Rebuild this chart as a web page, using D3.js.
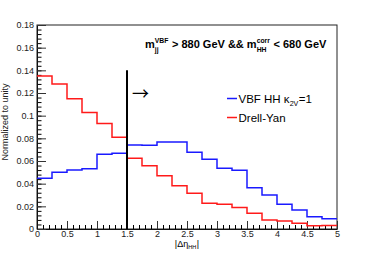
<!DOCTYPE html>
<html>
<head>
<meta charset="utf-8">
<script src="https://cdn.jsdelivr.net/npm/d3@7"></script>
<style>
  body { margin: 0; background: #fff; }
  text { font-family: "Liberation Sans", Arial, Helvetica, sans-serif; }
</style>
</head>
<body>
<div id="chart"></div>
<script>
// bin low edges (width 0.25) and the histogram contents
var binEdges = [0, 0.25, 0.5, 0.75, 1, 1.25, 1.5, 1.75, 2, 2.25, 2.5, 2.75, 3, 3.25, 3.5, 3.75, 4, 4.25, 4.5, 4.75, 5];
var vbfValues = [0.0447, 0.050, 0.052, 0.0532, 0.066, 0.0668, 0.0741, 0.074, 0.0768, 0.0768,
                 0.0677, 0.0615, 0.0535, 0.0518, 0.0365, 0.030, 0.0218, 0.0168, 0.0109, 0.0091];
var dyValues  = [0.135, 0.128, 0.115, 0.1027, 0.093, 0.081, 0.0624, 0.0558, 0.047, 0.0382,
                 0.0315, 0.0227, 0.0218, 0.019, 0.0138, 0.0079, 0.0071, 0.005, 0.0029, 0.003];
var xTicks = [0, 0.5, 1, 1.5, 2, 2.5, 3, 3.5, 4, 4.5, 5];
var yTicks = [0, 0.02, 0.04, 0.06, 0.08, 0.1, 0.12, 0.14, 0.16, 0.18];
var cutValue = 1.5;

var w = 374, h = 255;
var margins = { top: 25, right: 37, bottom: 26, left: 37 };
var width = w - margins.left - margins.right;
var height = h - margins.top - margins.bottom;

var x = d3.scaleLinear().domain([0, 5]).range([0, width]);
var y = d3.scaleLinear().domain([0, 0.18]).range([height, 0]);

var svg = d3.select("#chart").append("svg")
    .attr("width", w)
    .attr("height", h);
var g = svg.append("g")
    .attr("transform", "translate(" + margins.left + "," + margins.top + ")");

// frame
g.append("rect")
    .attr("x", 0).attr("y", 0)
    .attr("width", width).attr("height", height)
    .attr("fill", "none")
    .attr("stroke", "#222")
    .attr("stroke-width", 1);

// minor ticks
var xMinor = d3.range(0, 50).map(function(i) { return i / 10; });
var yMinor = d3.range(0, 45).map(function(i) { return i * 0.004; });

g.append("g")
    .attr("transform", "translate(0," + height + ")")
    .call(d3.axisBottom(x).tickValues(xMinor).tickSize(-4).tickSizeOuter(0).tickFormat(""))
    .call(function(a) { a.select(".domain").remove(); });
g.append("g")
    .call(d3.axisLeft(y).tickValues(yMinor).tickSize(-4.5).tickSizeOuter(0).tickFormat(""))
    .call(function(a) { a.select(".domain").remove(); });

// major ticks + labels
var xAxis = g.append("g")
    .attr("transform", "translate(0," + height + ")")
    .call(d3.axisBottom(x).tickValues(xTicks).tickSize(-8).tickSizeOuter(0).tickPadding(1.5)
        .tickFormat(function(d) { return String(d); }));
var yAxis = g.append("g")
    .call(d3.axisLeft(y).tickValues(yTicks).tickSize(-9).tickSizeOuter(0).tickPadding(3)
        .tickFormat(function(d) { return d === 0 ? "0" : String(+d.toFixed(2)); }));
[xAxis, yAxis].forEach(function(a) {
  a.selectAll("text").attr("font-size", 9).attr("fill", "#222")
      .style("font-family", "'Liberation Sans', Arial, sans-serif");
  a.selectAll("line").attr("stroke", "#333");
  a.select(".domain").attr("stroke", "#111");
});

// histograms as steps
function stepPoints(vals) {
  var pts = vals.map(function(v, i) { return [binEdges[i], v]; });
  pts.push([binEdges[vals.length], vals[vals.length - 1]]);
  return pts;
}
var step = d3.line()
    .x(function(d) { return x(d[0]); })
    .y(function(d) { return y(d[1]); })
    .curve(d3.curveStepAfter);

g.append("path")
    .datum(stepPoints(dyValues))
    .attr("fill", "none")
    .attr("stroke", "#ff1a1a")
    .attr("stroke-width", 1.5)
    .attr("d", step);
g.append("path")
    .datum(stepPoints(vbfValues))
    .attr("fill", "none")
    .attr("stroke", "#1a1aff")
    .attr("stroke-width", 1.5)
    .attr("d", step);

// cut line and arrow
g.append("line")
    .attr("x1", x(cutValue)).attr("x2", x(cutValue))
    .attr("y1", y(0)).attr("y2", y(0.14))
    .attr("stroke", "#000").attr("stroke-width", 2);
g.append("text")
    .attr("x", x(cutValue) + 5).attr("y", y(0.114))
    .attr("font-size", 17)
    .style("font-family", "'Noto Sans CJK JP', sans-serif")
    .text("\u2192");

// helper: text with stacked sub/superscripts
function richText(parent, x0, y0, parts, size, weight, anchor) {
  var t = parent.append("g");
  var cx = 0;
  parts.forEach(function(p) {
    if (typeof p === "string") {
      var e = t.append("text").attr("x", cx).attr("y", 0)
          .attr("font-size", size).attr("font-weight", weight).text(p)
          .attr("xml:space", "preserve").style("white-space", "pre");
      cx += e.node().getComputedTextLength();
    } else {
      var ss = size * 0.62, wmax = 0;
      if (p.sup) {
        var s1 = t.append("text").attr("x", cx).attr("y", -size * 0.42)
            .attr("font-size", ss).attr("font-weight", weight).text(p.sup);
        wmax = Math.max(wmax, s1.node().getComputedTextLength());
      }
      if (p.sub) {
        var s2 = t.append("text").attr("x", cx).attr("y", size * 0.32)
            .attr("font-size", ss).attr("font-weight", weight).text(p.sub);
        wmax = Math.max(wmax, s2.node().getComputedTextLength());
      }
      cx += wmax + 0.5;
    }
  });
  var shift = anchor === "middle" ? -cx / 2 : 0;
  t.attr("transform", "translate(" + (x0 + shift) + "," + y0 + ")");
  return t;
}

// title
richText(svg, 145, 48, ["m", {sup: "VBF", sub: "jj"}, " > 880 GeV && m", {sup: "corr", sub: "HH"}, " < 680 GeV"],
    11, "bold", "start");

// legend
var legend = [
  { color: "#1a1aff", parts: ["VBF HH \u03ba", {sub: "2V"}, "=1"], yy: 98.5 },
  { color: "#ff1a1a", parts: ["Drell-Yan"], yy: 117.5 }
];
legend.forEach(function(l) {
  svg.append("line")
      .attr("x1", 227).attr("x2", 237)
      .attr("y1", l.yy).attr("y2", l.yy)
      .attr("stroke", l.color).attr("stroke-width", 1.5);
  richText(svg, 238.5, l.yy + 4, l.parts, 11.5, "normal", "start");
});

// axis titles
svg.append("text")
    .attr("transform", "translate(7.5,122) rotate(-90)")
    .attr("text-anchor", "middle")
    .attr("font-size", 9)
    .attr("fill", "#222")
    .text("Normalized to unity");
richText(svg, 187, 246.5, ["|\u0394\u03b7", {sub: "HH"}, "|"], 9, "normal", "middle");
</script>
</body>
</html>
